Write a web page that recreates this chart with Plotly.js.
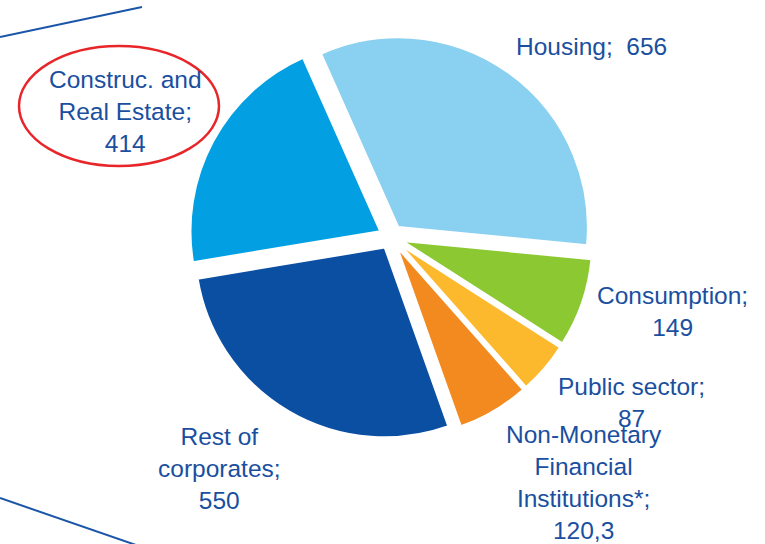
<!DOCTYPE html>
<html>
<head>
<meta charset="utf-8">
<script src="https://cdn.plot.ly/plotly-3.0.1.min.js"></script>
<style>html,body{margin:0;padding:0;background:#fff;}#chart{width:765px;height:544px;}</style>
</head>
<body>
<div id="chart"></div>
<script>
// Data
const categories = ["Housing", "Consumption", "Public sector", "Non-Monetary Financial Institutions*", "Rest of corporates", "Construc. and Real Estate"];
const values = [656, 149, 87, 120.3, 550, 414];
const valueLabels = ["656", "149", "87", "120,3", "550", "414"];
const labelLines = [
  ["Housing;  656"],
  ["Consumption;", "149"],
  ["Public sector;", "87"],
  ["Non-Monetary", "Financial", "Institutions*;", "120,3"],
  ["Rest of", "corporates;", "550"],
  ["Construc. and", "Real Estate;", "414"]
];
const colors = ["#8ad0f0", "#8cc832", "#fdb92e", "#f28a1f", "#0b4fa3", "#029fe2"];

const W = 765, H = 544;
const px = x => x / W;
const py = y => 1 - y / H;

// label anchor positions in pixels (layout only)
const labelPos = [[591, 46], [672, 311], [631, 402], [584, 482], [220, 468], [125, 111]];

const annotations = labelLines.map((lines, i) => ({
  text: lines.join("<br>"),
  x: px(labelPos[i][0]), y: py(labelPos[i][1]),
  xref: "paper", yref: "paper",
  xanchor: "center", yanchor: "middle",
  align: "center", showarrow: false,
  font: {family: "Liberation Sans, Arial, sans-serif", size: 24.5, color: "#1a4fa0"}
}));

const trace = {
  type: "pie",
  labels: categories,
  values: values,
  sort: false,
  direction: "clockwise",
  rotation: -24,
  pull: [0.065, 0.065, 0.065, 0.065, 0.065, 0.065],
  marker: {colors: colors, line: {color: "#ffffff", width: 2}},
  textinfo: "none",
  hoverinfo: "label+value",
  domain: {x: [px(189), px(593)], y: [py(439), py(35)]},
  showlegend: false
};

const layout = {
  width: W, height: H,
  margin: {l: 0, r: 0, t: 0, b: 0},
  paper_bgcolor: "#ffffff",
  showlegend: false,
  annotations: annotations,
  shapes: [
    {type: "line", xref: "paper", yref: "paper", x0: px(0), y0: py(37), x1: px(142), y1: py(7), line: {color: "#1a55a8", width: 2}},
    {type: "line", xref: "paper", yref: "paper", x0: px(0), y0: py(498), x1: px(136), y1: py(545), line: {color: "#1a55a8", width: 2}},
    {type: "circle", xref: "paper", yref: "paper", x0: px(19), y0: py(46), x1: px(219), y1: py(166), line: {color: "#e8262a", width: 2.5}}
  ]
};

Plotly.newPlot("chart", [trace], layout, {staticPlot: true, displayModeBar: false});
</script>
</body>
</html>
